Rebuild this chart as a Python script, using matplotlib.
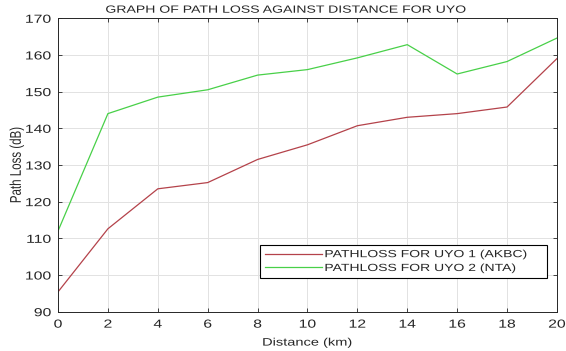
import matplotlib
matplotlib.use("Agg")
import matplotlib.pyplot as plt
from matplotlib.patheffects import AbstractPathEffect
from matplotlib.transforms import Affine2D
from matplotlib.legend_handler import HandlerLine2D

# Path loss measurements (dB) against distance (km)
distance_km = [0, 2, 4, 6, 8, 10, 12, 14, 16, 18, 20]
pathloss_uyo1 = [95.4, 112.6, 123.5, 125.2, 131.5, 135.5, 140.7, 143.0, 144.0, 145.8, 159.0]
pathloss_uyo2 = [112.0, 144.0, 148.5, 150.5, 154.5, 156.0, 159.2, 162.8, 154.8, 158.2, 164.6]

label_uyo1 = "PATHLOSS FOR UYO 1 (AKBC)"
label_uyo2 = "PATHLOSS FOR UYO 2 (NTA)"
x_ticks = list(range(0, 21, 2))
y_ticks = list(range(90, 171, 10))

plt.rcParams["font.family"] = ["Liberation Sans", "DejaVu Sans"]

SX = 1.35  # horizontal widening applied to all lettering


class WideText(AbstractPathEffect):
    """Draw text widened horizontally about a chosen anchor edge."""

    def __init__(self, sx=SX, anchor="center"):
        super().__init__()
        self.sx = sx
        self.anchor = anchor

    def draw_path(self, renderer, gc, tpath, affine, rgbFace=None):
        ext = tpath.transformed(affine).get_extents()
        if self.anchor == "left":
            x0 = ext.x0
        elif self.anchor == "right":
            x0 = ext.x1
        else:
            x0 = 0.5 * (ext.x0 + ext.x1)
        widen = Affine2D().translate(-x0, 0).scale(self.sx, 1).translate(x0, 0)
        renderer.draw_path(gc, tpath, affine + widen, rgbFace)


fig = plt.figure(figsize=(5.66, 3.51), dpi=100)
ax = fig.add_axes([0.1025, 0.112, 0.8815, 0.836])

ax.plot(distance_km, pathloss_uyo1, color="#b4424a", lw=0.9, label=label_uyo1)
ax.plot(distance_km, pathloss_uyo2, color="#48d048", lw=0.9, label=label_uyo2)

ax.set_xlim(0, 20)
ax.set_ylim(90, 170)
ax.set_xticks(x_ticks)
ax.set_yticks(y_ticks)
ax.tick_params(direction="in", top=True, right=True, labelsize=8.4,
               length=3, width=0.6, colors="#262626")
ax.tick_params(axis="x", pad=5)
ax.tick_params(axis="y", pad=5)
ax.grid(True, color="#e2e2e2", lw=0.7)
for s in ax.spines.values():
    s.set_linewidth(0.7)
    s.set_color("#262626")

for lbl in ax.get_xticklabels():
    lbl.set_path_effects([WideText(anchor="center")])
for lbl in ax.get_yticklabels():
    lbl.set_path_effects([WideText(anchor="right")])

title = ax.set_title("GRAPH OF PATH LOSS AGAINST DISTANCE FOR UYO",
                     fontsize=7.5, pad=4, color="#262626", x=0.455)
title.set_path_effects([WideText(anchor="center")])
xl = ax.set_xlabel("Distance (km)", fontsize=7.8, labelpad=5, color="#262626")
xl.set_path_effects([WideText(anchor="center")])
yl = ax.set_ylabel("Path Loss (dB)", fontsize=8.3, labelpad=5, color="#262626")
yl.set_path_effects([WideText(anchor="right")])

leg = ax.legend(loc="lower left", bbox_to_anchor=(0.4048, 0.116, 0.5752, 0.118),
                mode="expand", borderaxespad=0, fontsize=7.45,
                handlelength=5.5, handletextpad=0.3, borderpad=0.45,
                labelspacing=0.37, frameon=True, fancybox=False,
                edgecolor="black", framealpha=1,
                handler_map={plt.Line2D: HandlerLine2D(marker_pad=0.45)})
leg.get_frame().set_linewidth(0.8)
for t in leg.get_texts():
    t.set_color("#262626")
    t.set_path_effects([WideText(anchor="left")])

fig.savefig("out.png", dpi=100)
